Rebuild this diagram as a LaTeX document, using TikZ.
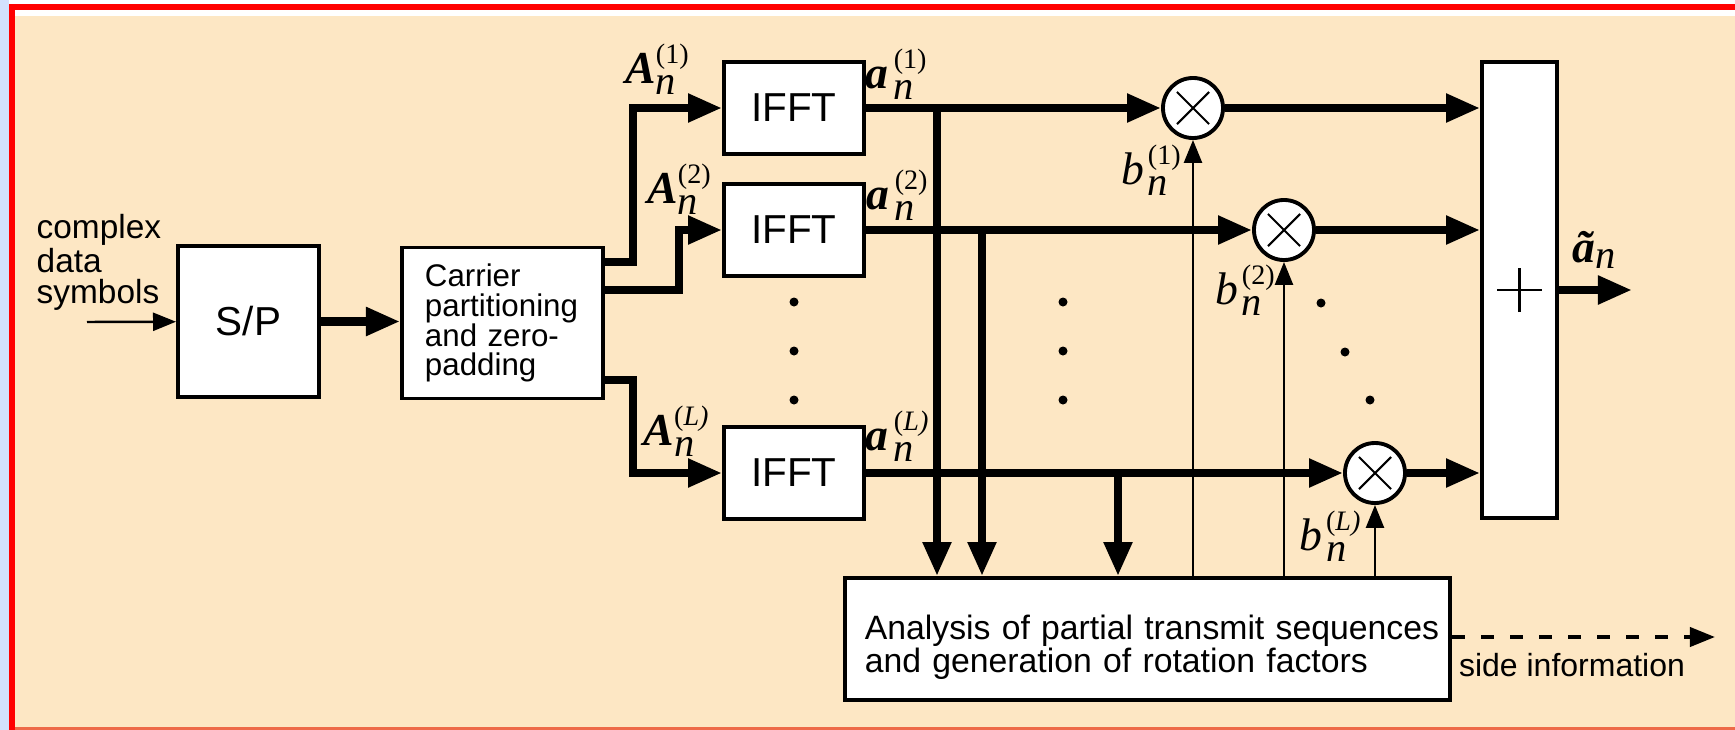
\documentclass[tikz,border=0pt]{standalone}
\usepackage{fontspec}
\setmainfont{Liberation Sans}
\newfontfamily\tms{Liberation Serif}
\usetikzlibrary{arrows.meta,positioning,calc}
\definecolor{mybg}{HTML}{FDE7C4}
\definecolor{myred}{HTML}{FF0000}
\definecolor{myblue}{HTML}{D3E1FD}
\definecolor{myedge}{HTML}{EE6A48}
\newcommand{\vsym}[2]{{#1}$_{\mbox{\fontsize{11.5}{11.5}\selectfont\mdseries\itshape n}}^{\mbox{\fontsize{8}{9}\selectfont\mdseries\upshape(#2)}}$}
\tikzset{
  box/.style={draw, line width=1.1pt, fill=white, inner sep=0pt, align=center},
  mult/.style={draw, circle, line width=1.1pt, fill=white, minimum size=0.6cm, inner sep=0pt,
    path picture={\draw[line width=0.6pt]
      ([shift={(-0.16cm,-0.16cm)}]path picture bounding box.center) -- ([shift={(0.16cm,0.16cm)}]path picture bounding box.center)
      ([shift={(-0.16cm,0.16cm)}]path picture bounding box.center) -- ([shift={(0.16cm,-0.16cm)}]path picture bounding box.center);}},
  arr/.style={-{Triangle[length=3.4mm,width=2.7mm]}, line width=2.3pt},
  tarr/.style={-{Triangle[length=2.3mm,width=1.8mm]}, line width=0.7pt},
  darr/.style={-{Triangle[length=2.5mm,width=1.9mm]}, line width=1.1pt, dash pattern=on 1.3mm off 1.6mm},
  lab/.style={font=\tms\fontsize{13}{13}\selectfont, inner sep=0pt},
  txt/.style={font=\fontsize{9.5}{8.6}\selectfont, align=left, inner sep=0pt},
}
\begin{document}
\begin{tikzpicture}[x=0.01cm, y=-0.01cm]
  \useasboundingbox (0,0) rectangle (1735,730);
  % frame and background
  \fill[white!95!myblue] (0,0) rectangle (1735,730);
  \fill[myblue] (0,0) rectangle (9,730);
  \fill[white] (15,10) rectangle (1735,16);
  \fill[mybg] (15,16) rectangle (1735,727);
  \fill[myedge] (15,727) rectangle (1735,730);
  \fill[myred] (9,4) rectangle (1735,10);
  \fill[myred] (9,4) rectangle (15,730);

  % blocks
  \node[box, minimum width=1.41cm, minimum height=1.51cm, font=\fontsize{11.5}{12}\selectfont] (sp) at (248.5,321.5) {S/P};
  \node[box, minimum width=2.01cm, minimum height=1.51cm, text width=1.55cm, align=left,
        font=\fontsize{8.9}{8.5}\selectfont] (cp) at (502.5,323) {Carrier\\partitioning\\and zero-\\padding};
  \node[box, minimum width=1.40cm, minimum height=0.92cm, font=\fontsize{11.5}{12}\selectfont] (f1) at (794,108) {IFFT};
  \node[box, minimum width=1.40cm, minimum height=0.92cm, font=\fontsize{11.5}{12}\selectfont] (f2) at (794,230) {IFFT};
  \node[box, minimum width=1.40cm, minimum height=0.92cm, font=\fontsize{11.5}{12}\selectfont] (fL) at (794,473) {IFFT};
  \node[mult] (m1) at (1193,108) {};
  \node[mult] (m2) at (1284,230) {};
  \node[mult] (mL) at (1375,473) {};
  \node[box, minimum width=0.75cm, minimum height=4.56cm] (ad) at (1519.5,290) {};
  \draw[line width=0.6pt] ([xshift=-0.22cm]ad.center) -- ([xshift=0.22cm]ad.center)
                          ([yshift=-0.22cm]ad.center) -- ([yshift=0.22cm]ad.center);
  \node[box, minimum width=6.05cm, minimum height=1.22cm, text width=5.65cm, align=left,
        text height=11.6pt, text depth=11.5pt,
        font=\fontsize{9.6}{9.5}\selectfont] (ana) at (1147.5,639)
        {\hbox{Analysis of partial transmit sequences}\\and generation of rotation factors};

  % free ends
  \coordinate (in) at (87,322);
  \coordinate (out) at (1632,290);
  \coordinate (side) at (1715,637);
  \coordinate (t1) at (937,108);
  \coordinate (t2) at (982,230);
  \coordinate (tL) at (1118,473);

  % input and splitting
  \draw[tarr] (in) -- (sp);
  \draw[arr] (sp) -- (sp -| cp.west);
  \draw[arr] (cp.east |- 0,262) -- (633,262) |- (f1.west);
  \draw[arr] (cp.east |- 0,290) -- (679,290) |- (f2.west);
  \draw[arr] (cp.east |- 0,380) -- (633,380) |- (fL.west);

  % partial transmit sequences
  \draw[arr] (f1) -- (m1);
  \draw[arr] (f2) -- (m2);
  \draw[arr] (fL) -- (mL);
  \draw[arr] (m1) -- (ad.west |- m1);
  \draw[arr] (m2) -- (ad.west |- m2);
  \draw[arr] (mL) -- (ad.west |- mL);
  \draw[arr] (ad.east) -- (out);
  \draw[arr] (t1) -- (t1 |- ana.north);
  \draw[arr] (t2) -- (t2 |- ana.north);
  \draw[arr] (tL) -- (tL |- ana.north);
  \draw[tarr] (m1 |- ana.north) -- (m1);
  \draw[tarr] (m2 |- ana.north) -- (m2);
  \draw[tarr] (mL |- ana.north) -- (mL);
  \draw[darr] (ana.east |- side) -- (side);

  % dots
  \fill (794,302) circle (0.045cm) (794,351) circle (0.045cm) (794,400) circle (0.045cm);
  \fill (1063,302) circle (0.045cm) (1063,351) circle (0.045cm) (1063,400) circle (0.045cm);
  \fill (1321,303) circle (0.045cm) (1345,352) circle (0.045cm) (1370,400) circle (0.045cm);

  % labels
  \node[txt, anchor=west] (cds) at (36,262) {complex\\data\\symbols};
  \node[txt, font=\fontsize{9.1}{10}\selectfont] (si) at (1572,665) {side information};
  \node[lab] (lA1) at (658,69) {\vsym{\bfseries\itshape A}{1}};
  \node[lab] (lA2) at (680,189) {\vsym{\bfseries\itshape A}{2}};
  \node[lab] (lAL) at (677,431) {\vsym{\bfseries\itshape A}{\itshape L}};
  \node[lab] (la1) at (897,74) {\vsym{\bfseries\itshape a\hspace{1.5pt}}{1}};
  \node[lab] (la2) at (898,195) {\vsym{\bfseries\itshape a\hspace{1.5pt}}{2}};
  \node[lab] (laL) at (898,436) {\vsym{\bfseries\itshape a\hspace{1.5pt}}{\itshape L}};
  \node[lab] (lb1) at (1152,170) {\vsym{\itshape b\hspace{1pt}}{1}};
  \node[lab] (lb2) at (1246,290) {\vsym{\itshape b\hspace{1pt}}{2}};
  \node[lab] (lbL) at (1331,536) {\vsym{\itshape b\hspace{1pt}}{\itshape L}};
  \node[lab] (lout) at (1595,250) {{\bfseries\itshape\~a}$_{\mbox{\fontsize{11.5}{11.5}\selectfont\itshape n}}$};
\end{tikzpicture}
\end{document}
